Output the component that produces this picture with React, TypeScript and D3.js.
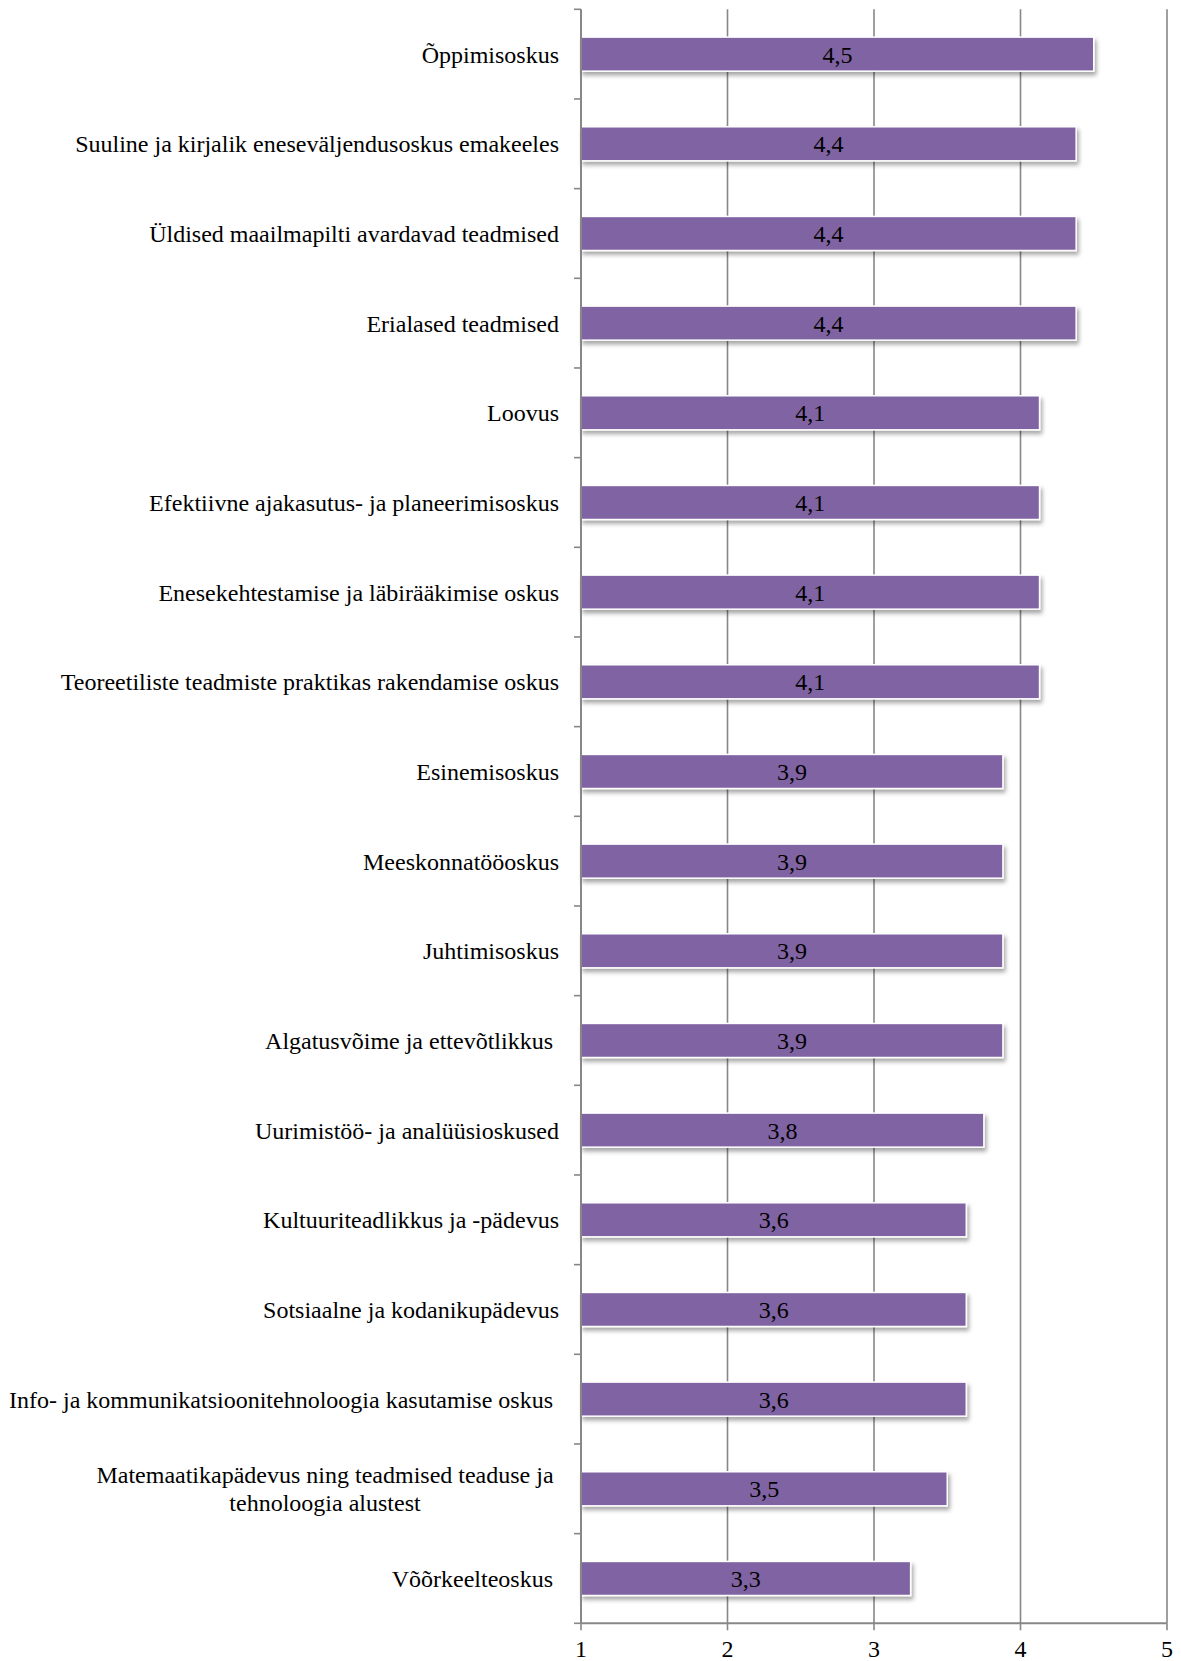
import React from "react";
import * as d3 from "d3";

const categories: string[][] = [
  ["Õppimisoskus"],
  ["Suuline ja kirjalik eneseväljendusoskus emakeeles"],
  ["Üldised maailmapilti avardavad teadmised"],
  ["Erialased teadmised"],
  ["Loovus"],
  ["Efektiivne ajakasutus- ja planeerimisoskus"],
  ["Enesekehtestamise ja läbirääkimise oskus"],
  ["Teoreetiliste teadmiste praktikas rakendamise oskus"],
  ["Esinemisoskus"],
  ["Meeskonnatööoskus"],
  ["Juhtimisoskus"],
  ["Algatusvõime ja ettevõtlikkus "],
  ["Uurimistöö- ja analüüsioskused"],
  ["Kultuuriteadlikkus ja -pädevus"],
  ["Sotsiaalne ja kodanikupädevus"],
  ["Info- ja kommunikatsioonitehnoloogia kasutamise oskus "],
  ["Matemaatikapädevus ning teadmised teaduse ja ", "tehnoloogia alustest"],
  ["Võõrkeelteoskus "],
];

const values: number[] = [
  4.5, 4.38, 4.38, 4.38, 4.13, 4.13, 4.13, 4.13, 3.88, 3.88, 3.88, 3.88, 3.75,
  3.63, 3.63, 3.63, 3.5, 3.25,
];

const xTicks: number[] = [1, 2, 3, 4, 5];

const W = 1181;
const H = 1661;
const FONT = "'Liberation Serif', 'Times New Roman', serif";
const FS = 24;
const GRID = "#878787";
const BAR = "#8064A2";

export default function App() {
  const x = d3.scaleLinear().domain([1, 5]).range([581, 1167]);
  const keys = categories.map((_, i) => String(i));
  const y = d3.scaleBand<string>().domain(keys).range([9.3, 1623.3]).padding(0);
  const bw = y.bandwidth();
  const barH = bw * 0.38;
  const fmt = (v: number) => d3.format(".1f")(v).replace(".", ",");
  const boundaries = d3.range(categories.length + 1).map((i) => 9.3 + i * bw);
  const x0 = x(1);
  const yTop = y.range()[0];
  const yBot = y.range()[1];

  return (
    <div style={{ position: "absolute", left: 0, top: 0 }}>
      <svg width={W} height={H} style={{ display: "block", background: "#fff" }}>
        <defs>
          <filter id="shadow" x="-5%" y="-30%" width="115%" height="180%">
            <feDropShadow dx="2" dy="3.5" stdDeviation="2" floodColor="#000" floodOpacity="0.35" />
          </filter>
        </defs>
        <rect x={0} y={0} width={W} height={H} fill="#fff" />
        {xTicks.slice(1).map((t) => (
          <line key={"g" + t} x1={x(t)} x2={x(t)} y1={yTop} y2={yBot} stroke={GRID} strokeWidth={1.6} />
        ))}
        {values.map((v, i) => {
          const cy = (y(String(i)) as number) + bw / 2;
          return (
            <g key={"b" + i}>
              <rect
                x={x0}
                y={cy - barH / 2}
                width={x(v) - x0}
                height={barH}
                fill={BAR}
                stroke="#fff"
                strokeWidth={1.5}
                filter="url(#shadow)"
              />
              <text
                x={(x0 + x(v)) / 2}
                y={cy}
                dy="0.35em"
                textAnchor="middle"
                fontFamily={FONT}
                fontSize={FS}
                fill="#000"
              >
                {fmt(v)}
              </text>
            </g>
          );
        })}
        <line x1={x0} x2={x0} y1={yTop} y2={yBot} stroke={GRID} strokeWidth={2} />
        {boundaries.map((b, i) => (
          <line key={"ct" + i} x1={x0 - 7} x2={x0} y1={b} y2={b} stroke={GRID} strokeWidth={1.6} />
        ))}
        <line x1={x0} x2={x(5)} y1={yBot} y2={yBot} stroke={GRID} strokeWidth={2} />
        {xTicks.map((t) => (
          <g key={"xt" + t}>
            <line x1={x(t)} x2={x(t)} y1={yBot} y2={yBot + 7} stroke={GRID} strokeWidth={1.6} />
            <text
              x={x(t)}
              y={yBot + 34}
              textAnchor="middle"
              fontFamily={FONT}
              fontSize={FS}
              fill="#000"
            >
              {t}
            </text>
          </g>
        ))}
        {categories.map((lines, i) => {
          const cy = (y(String(i)) as number) + bw / 2;
          const lh = 28;
          const right = 559;
          if (lines.length === 1) {
            return (
              <text
                key={"cl" + i}
                x={right}
                y={cy}
                dy="0.35em"
                textAnchor="end"
                fontFamily={FONT}
                fontSize={FS}
                fill="#000"
                style={{ whiteSpace: "pre" }}
              >
                {lines[0]}
              </text>
            );
          }
          const cx = 325;
          return (
            <text
              key={"cl" + i}
              fontFamily={FONT}
              fontSize={FS}
              fill="#000"
              textAnchor="middle"
            >
              {lines.map((ln, j) => (
                <tspan key={j} x={cx} y={cy + (j - (lines.length - 1) / 2) * lh} dy="0.35em">
                  {ln.trim()}
                </tspan>
              ))}
            </text>
          );
        })}
      </svg>
    </div>
  );
}
